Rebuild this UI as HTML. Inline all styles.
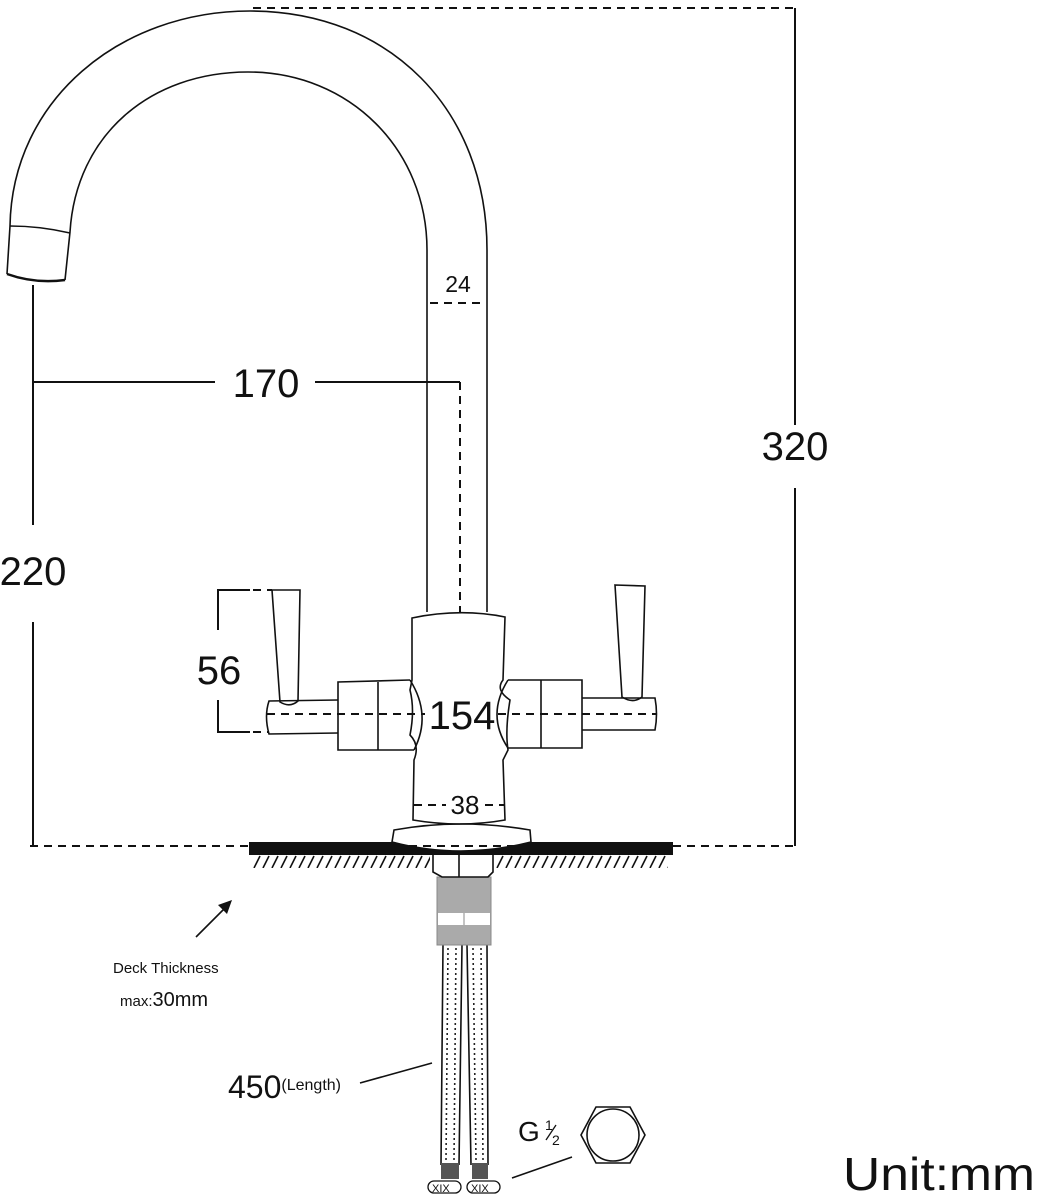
<!DOCTYPE html>
<html><head><meta charset="utf-8"><style>
html,body{margin:0;padding:0;background:#fff}
svg{display:block}
text{font-family:"Liberation Sans",sans-serif;fill:#111}
</style></head><body>
<svg width="1041" height="1200" viewBox="0 0 1041 1200" xmlns="http://www.w3.org/2000/svg">
<defs>
<pattern id="hatch" width="9" height="14" patternUnits="userSpaceOnUse">
<line x1="2" y1="14" x2="8" y2="2" stroke="#111" stroke-width="1.6"/>
</pattern>
</defs>
<g fill="none" stroke="#111" stroke-width="1.6">
<!-- spout -->
<path d="M7,274 L10,226 C12,100 120,11 250,11 C390,11 487,110 487,250 L487,612"/>
<path d="M65,280 L70,232 C76,135 150,72 248,72 C350,72 427,150 427,250 L427,612"/>
<path d="M10,226 Q40,226 70,233"/>
<path d="M7,274 Q35,284 65,280" stroke-width="2.5"/>
<!-- body -->
<path d="M412,618 Q460,608 505,617 L503,680 Q495,690 510,700 Q505,730 508,750 L503,760 L505,820 Q460,828 413,820 L414,760 Q420,745 410,735 Q415,710 410,690 L412,680 Z"/>
<path d="M410,680 L338,682 L338,750 L414,750"/>
<path d="M378,682 L378,750"/>
<path d="M410,680 Q432,715 414,750"/>
<path d="M508,680 L582,680 L582,748 L508,748"/>
<path d="M541,680 L541,748"/>
<path d="M508,680 Q486,715 508,748"/>
<path d="M338,700 L269,701 Q264,716 269,734 L338,733"/>
<path d="M582,698 L655,698 Q658,714 655,730 L582,730"/>
<path d="M272,590 L300,590 L298,701 Q290,708 280,702 Z"/>
<path d="M615,585 L645,586 L642,697 Q633,704 622,697 Z"/>
<!-- flange -->
<path d="M394,830 Q460,818 530,830 L531,842 Q460,860 392,842 Z"/>
<!-- hoses -->
<path d="M443,945 L441,1165 M462,945 L459,1165 M467,945 L471,1165 M487,945 L488,1165"/>
<!-- hex -->
<polygon points="596,1107 630,1107 645,1135 630,1163 596,1163 581,1135"/>
<circle cx="613" cy="1135" r="26"/>
</g>
<!-- hose dots -->
<g stroke="#222" stroke-width="1.6" stroke-dasharray="2,3" fill="none">
<line x1="448" y1="948" x2="446" y2="1160"/><line x1="456" y1="948" x2="454" y2="1160"/>
<line x1="473" y1="948" x2="476" y2="1160"/><line x1="481" y1="948" x2="483" y2="1160"/>
</g>
<rect x="441" y="1163" width="18" height="16" fill="#555"/>
<rect x="472" y="1163" width="16" height="16" fill="#555"/>
<g fill="#fff" stroke="#111" stroke-width="1.3">
<rect x="428" y="1181" width="33" height="12" rx="6"/>
<rect x="467" y="1181" width="33" height="12" rx="6"/>
</g>
<text x="432" y="1192" font-size="11">XIX</text><text x="471" y="1192" font-size="11">XIX</text>
<!-- gray block -->
<rect x="437" y="877" width="54" height="68" fill="#aaa" stroke="#888"/>
<rect x="438" y="913" width="52" height="12" fill="#fff"/>
<line x1="464" y1="913" x2="464" y2="925" stroke="#888"/>
<!-- deck -->
<rect x="249" y="842" width="145" height="13" fill="#111"/>
<rect x="530" y="842" width="143" height="13" fill="#111"/>
<path d="M394,842 Q460,860 530,842 L530,855 L394,855 Z" fill="#111"/>
<rect x="252" y="855" width="416" height="14" fill="url(#hatch)"/>
<rect x="430" y="855" width="66" height="14" fill="#fff"/>
<path d="M433,855 L433,872 L442,877 L488,877 L493,872 L493,855 M459,855 L459,877" fill="none" stroke="#111" stroke-width="1.6"/>
<!-- dimension lines -->
<g stroke="#111" stroke-width="2" fill="none">
<line x1="795" y1="8" x2="795" y2="425"/><line x1="795" y1="488" x2="795" y2="846"/>
<line x1="33" y1="285" x2="33" y2="525"/><line x1="33" y1="622" x2="33" y2="846"/>
<line x1="33" y1="382" x2="215" y2="382"/><line x1="315" y1="382" x2="460" y2="382"/>
<path d="M250,590 L218,590 L218,630 M218,700 L218,732 L250,732"/>
<line x1="196" y1="937" x2="228" y2="905" stroke-width="1.6"/>
<line x1="360" y1="1083" x2="432" y2="1063" stroke-width="1.6"/>
<line x1="512" y1="1178" x2="572" y2="1157" stroke-width="1.6"/>
</g>
<polygon points="232,900 218,905 227,914" fill="#111"/>
<g stroke="#111" stroke-width="2" stroke-dasharray="8,6" fill="none">
<line x1="253" y1="8" x2="795" y2="8"/>
<line x1="30" y1="846" x2="249" y2="846"/><line x1="673" y1="846" x2="798" y2="846"/>
<line x1="395" y1="846" x2="530" y2="846"/>
<line x1="460" y1="382" x2="460" y2="612"/>
<line x1="430" y1="303" x2="486" y2="303"/>
<line x1="267" y1="714" x2="425" y2="714"/><line x1="498" y1="714" x2="656" y2="714"/>
<line x1="414" y1="805" x2="446" y2="805"/><line x1="485" y1="805" x2="505" y2="805"/>
<line x1="225" y1="590" x2="272" y2="590"/><line x1="225" y1="732" x2="268" y2="732"/>
</g>
<!-- text -->
<text x="795" y="460" font-size="40" text-anchor="middle">320</text>
<text x="33" y="585" font-size="40" text-anchor="middle">220</text>
<text x="266" y="397" font-size="40" text-anchor="middle">170</text>
<text x="219" y="684" font-size="40" text-anchor="middle">56</text>
<text x="462" y="729" font-size="40" text-anchor="middle">154</text>
<text x="465" y="814" font-size="26" text-anchor="middle">38</text>
<text x="458" y="292" font-size="23" text-anchor="middle">24</text>
<text x="113" y="973" font-size="15">Deck Thickness</text>
<text x="120" y="1006" font-size="15">max:<tspan font-size="20">30mm</tspan></text>
<text x="228" y="1098" font-size="32">450<tspan font-size="16" dy="-8">(Length)</tspan></text>
<text x="518" y="1141" font-size="28">G</text>
<text x="545" y="1130" font-size="14">1</text>
<text x="552" y="1145" font-size="14">2</text>
<line x1="546" y1="1140" x2="556" y2="1125" stroke="#111" stroke-width="1.3"/>
<text x="843" y="1190" font-size="46" textLength="192" lengthAdjust="spacingAndGlyphs">Unit:mm</text>
</svg>
</body></html>
